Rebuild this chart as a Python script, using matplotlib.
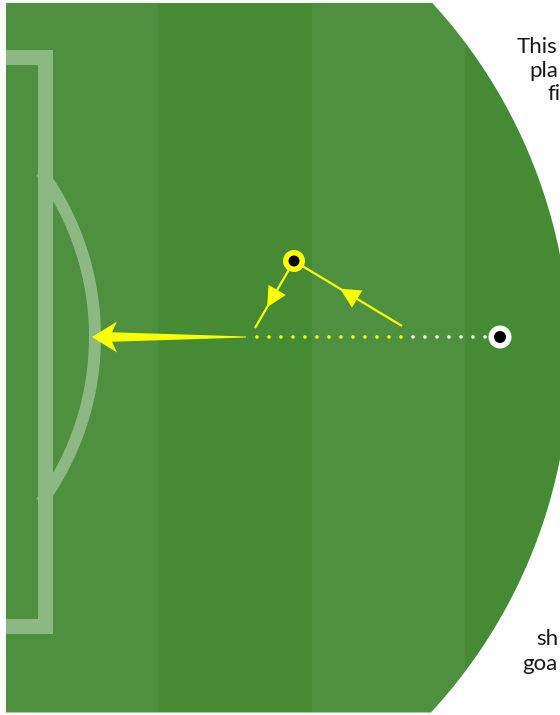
import numpy as np
import matplotlib
matplotlib.use("Agg")
import matplotlib.pyplot as plt
from matplotlib.patches import Polygon, Rectangle, Circle, Arc

# ---------------- data (pixel-based pitch coordinates) ----------------
stripe_edges = [6, 158, 312, 465, 620]
stripe_colors = ["#4f8f40", "#458a35", "#4f8f40", "#458a35"]

ball_xy = (500, 337)
player_xy = (294, 261)
pass_in_start = (402, 326)      # line coming into the player
pass_out_end = (255, 328)       # line leaving the player
shot_start = (246, 337)
shot_end = (92, 337)
white_dots_x = (485, 410)
yellow_dots_x = (401, 253)
dots_y = 337

top_lines = ["This", "pla", "fi"]
top_pos = [(517, 53), (529, 77), (548, 100)]
bottom_lines = ["sh", "goa"]
bottom_pos = [(536, 645), (522, 670)]

# ---------------- figure ----------------
W, H = 560, 715
fig = plt.figure(figsize=(W / 100, H / 100), dpi=100)
ax = fig.add_axes([0, 0, 1, 1])
ax.set_xlim(0, W)
ax.set_ylim(H, 0)
ax.axis("off")
PX = 0.72  # points per pixel

# pitch clip shape: rectangle cut by a large circle on the right
x0, y0, y1 = 6, 3, 712.5
cx, cy, R = 46, 357, 524
t0 = np.arcsin((y0 - cy) / R)
t1 = np.arcsin((y1 - cy) / R)
t = np.linspace(t0, t1, 300)
verts = [(x0, y0)] + list(zip(cx + R * np.cos(t), cy + R * np.sin(t))) + [(x0, y1)]
clip = Polygon(verts, closed=True, facecolor="none", edgecolor="none")
ax.add_patch(clip)

for i in range(len(stripe_colors)):
    r = Rectangle((stripe_edges[i], y0), stripe_edges[i + 1] - stripe_edges[i], y1 - y0,
                  facecolor=stripe_colors[i], edgecolor="none", zorder=1)
    ax.add_patch(r)
    r.set_clip_path(clip)

line_col = "#8cb883"
box = Rectangle((-80, 56.5), 124.5, 569, fill=False, edgecolor=line_col,
                lw=15 * PX, joinstyle="miter", zorder=2)
ax.add_patch(box)
box.set_clip_path(clip)
d_arc = Arc((-186, 337), 2 * 281, 2 * 281, theta1=-36, theta2=36,
            edgecolor=line_col, lw=12 * PX, zorder=2)
ax.add_patch(d_arc)

# dotted ball path
ax.plot(white_dots_x, [dots_y, dots_y], color="white", lw=3.6 * PX,
        linestyle=(0, (0.001, 12 / 3.6)), dash_capstyle="round", zorder=3)
ax.plot(yellow_dots_x, [dots_y, dots_y], color="#ffff00", lw=3.6 * PX,
        linestyle=(0, (0.001, 12 / 3.6)), dash_capstyle="round", zorder=3)

YEL = "#ffff00"

# big shot arrow (tapered)
s = np.array(shot_start, float)
e = np.array(shot_end, float)
u = (e - s) / np.linalg.norm(e - s)
n = np.array([-u[1], u[0]])
head_len, head_hw, notch, shaft_w, tail_w = 25, 15.5, 5, 9.5, 1.0
base = e - u * head_len
join = e - u * (head_len - notch)
poly = [e, base + n * head_hw, join + n * shaft_w / 2, s + n * tail_w / 2,
        s - n * tail_w / 2, join - n * shaft_w / 2, base - n * head_hw]
ax.add_patch(Polygon(poly, closed=True, facecolor=YEL, edgecolor="none", zorder=4))


def pass_line(a, b, frac):
    a = np.array(a, float)
    b = np.array(b, float)
    ax.plot([a[0], b[0]], [a[1], b[1]], color=YEL, lw=2.2 * PX,
            solid_capstyle="butt", zorder=4)
    d = (b - a) / np.linalg.norm(b - a)
    p = np.array([-d[1], d[0]])
    tip = a + (b - a) * frac
    bc = tip - d * 20
    ax.add_patch(Polygon([tip, bc + p * 10, bc - p * 10], closed=True,
                         facecolor=YEL, edgecolor="none", zorder=4))


pass_line(player_xy, pass_out_end, 0.69)
pass_line(pass_in_start, player_xy, 0.574)

# player and ball
ax.add_patch(Circle(player_xy, 11, facecolor=YEL, edgecolor="none", zorder=5))
ax.add_patch(Circle(player_xy, 5.5, facecolor="black", edgecolor="none", zorder=6))
ax.add_patch(Circle(ball_xy, 11.5, facecolor="white", edgecolor="none", zorder=5))
ax.add_patch(Circle(ball_xy, 6, facecolor="black", edgecolor="none", zorder=6))

for txt, (x, y) in zip(top_lines + bottom_lines, top_pos + bottom_pos):
    ax.text(x, y, txt, fontsize=16, family=["Lato", "DejaVu Sans"], color="#1a1a1a",
            ha="left", va="baseline", zorder=7)

fig.savefig("out.png", dpi=100)
